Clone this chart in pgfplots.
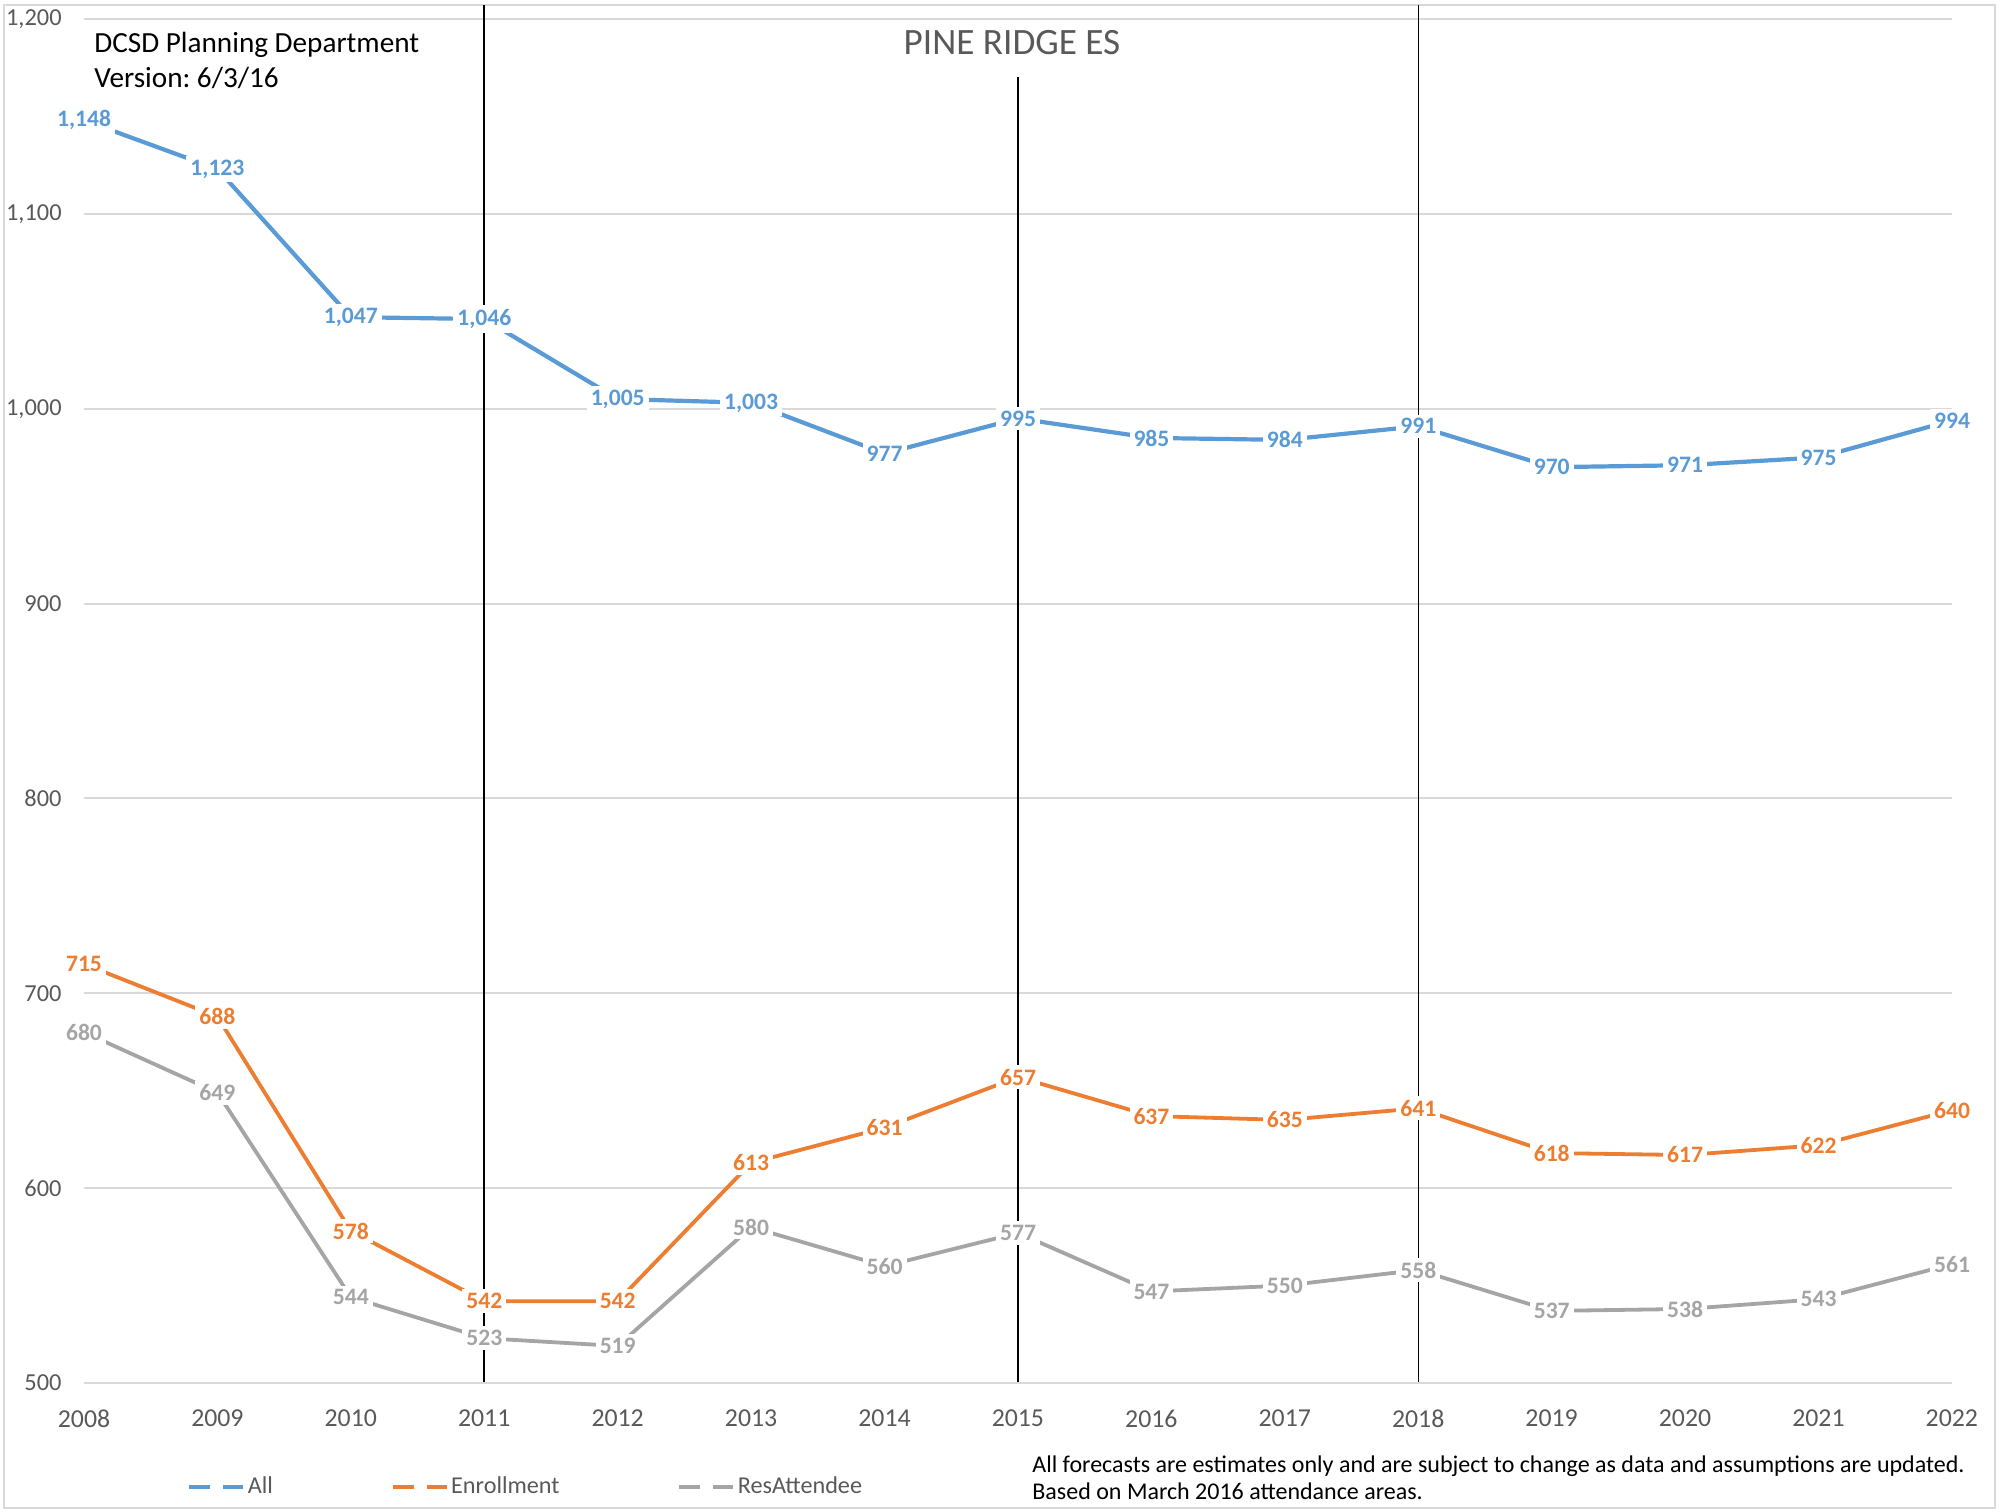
\documentclass[border=0pt]{standalone}
\usepackage{fontspec}
\setmainfont{Carlito}
\usepackage{pgfplots}
\pgfplotsset{compat=1.18}
\definecolor{cAll}{HTML}{5B9BD5}
\definecolor{cEnr}{HTML}{ED7D31}
\definecolor{cRes}{HTML}{A5A5A5}
\definecolor{txtgray}{HTML}{595959}
\definecolor{gridgray}{HTML}{D9D9D9}
\pgfplotsset{
  lbl/.style={
    nodes near coords={\pgfmathprintnumber[assume math mode=true,1000 sep={,}]{\pgfplotspointmeta}},
    every node near coord/.append style={text=#1, font=\fontsize{11.8}{13}\selectfont\bfseries, fill=white, anchor=center, inner sep=2pt}
  }
}
\frenchspacing
\begin{document}
\begin{tikzpicture}
\useasboundingbox (-42pt,-64pt) rectangle (960.5pt,691.5pt);
\draw[gridgray, line width=1pt] (-40pt,-62.5pt) rectangle (955.5pt,689pt);
\begin{axis}[
  at={(0pt,0pt)}, anchor=south west,
  width=934pt, height=682pt, scale only axis,
  xmin=2008, xmax=2022, ymin=500, ymax=1200,
  xtick={2008,2009,...,2022}, ytick={500,600,...,1200},
  ymajorgrids, grid style={gridgray, line width=1pt},
  axis line style={draw=none}, major tick length=0pt,
  clip=false,
  /pgf/number format/assume math mode=true,
  xticklabel style={/pgf/number format/1000 sep={}, font=\fontsize{12.9}{14}\selectfont, text=txtgray, anchor=center, inner sep=0pt, yshift=-17.85pt},
  yticklabel style={/pgf/number format/1000 sep={,}, font=\fontsize{12.2}{13}\selectfont, text=txtgray, anchor=east, inner sep=0pt, xshift=-11pt},
  legend style={draw=none, fill=none, legend columns=3, at={(0.0555,-0.07625)}, anchor=west,
    inner sep=0pt, outer sep=0pt, font=\fontsize{12.1}{14}\selectfont, text=txtgray,
    /tikz/every even column/.append style={column sep=59pt},
    /tikz/every odd column/.append style={column sep=1.5pt},
    nodes={inner sep=0pt}},
  legend image code/.code={\draw[#1, line width=1.6pt, dash pattern=on 10.5pt off 6.5pt] (0pt,0pt) -- (27pt,0pt);},
]
\addplot[cAll, line width=2.1pt, lbl=cAll] coordinates {
 (2008,1148) (2009,1123) (2010,1047) (2011,1046) (2012,1005) (2013,1003) (2014,977) (2015,995)
 (2016,985) (2017,984) (2018,991) (2019,970) (2020,971) (2021,975) (2022,994)};
\addplot[cEnr, line width=1.9pt, lbl=cEnr] coordinates {
 (2008,715) (2009,688) (2010,578) (2011,542) (2012,542) (2013,613) (2014,631) (2015,657)
 (2016,637) (2017,635) (2018,641) (2019,618) (2020,617) (2021,622) (2022,640)};
\addplot[cRes, line width=1.9pt, lbl=cRes] coordinates {
 (2008,680) (2009,649) (2010,544) (2011,523) (2012,519) (2013,580) (2014,560) (2015,577)
 (2016,547) (2017,550) (2018,558) (2019,537) (2020,538) (2021,543) (2022,561)};
\legend{All, Enrollment, ResAttendee}
\addplot[black, line width=0.8pt, forget plot] coordinates {(2011,500.5) (2011,1207.2)};
\addplot[black, line width=0.8pt, forget plot] coordinates {(2015,500.5) (2015,1170.2)};
\addplot[black, line width=0.8pt, forget plot] coordinates {(2018,500.5) (2018,1207.2)};
\end{axis}
\node[anchor=base west, font=\fontsize{14.6}{16}\selectfont, inner sep=0pt] at (5pt,665pt) {DCSD Planning Department};
\node[anchor=base west, font=\fontsize{14.6}{16}\selectfont, inner sep=0pt] at (5pt,647.5pt) {Version: 6/3/16};
\node[anchor=base, font=\fontsize{18.6}{20}\selectfont, text=txtgray, inner sep=0pt] at (464pt,664pt) {PINE RIDGE ES};
\node[anchor=base west, font=\fontsize{12}{14}\selectfont, inner sep=0pt] at (474pt,-44.5pt) {All forecasts are estimates only and are subject to change as data and assumptions are updated.};
\node[anchor=base west, font=\fontsize{12}{14}\selectfont, inner sep=0pt] at (474pt,-58pt) {Based on March 2016 attendance areas.};
\end{tikzpicture}
\end{document}
